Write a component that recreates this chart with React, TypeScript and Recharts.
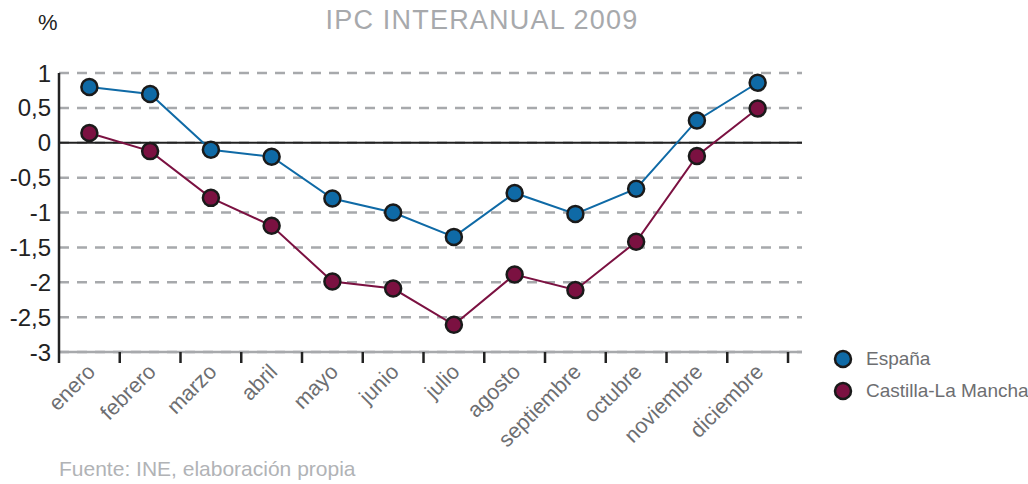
import { LineChart, Line, XAxis, YAxis, CartesianGrid, ReferenceLine } from "recharts";

const meses = [
  "enero", "febrero", "marzo", "abril", "mayo", "junio",
  "julio", "agosto", "septiembre", "octubre", "noviembre", "diciembre",
];
const espana = [0.8, 0.7, -0.1, -0.2, -0.8, -1.0, -1.35, -0.72, -1.02, -0.66, 0.32, 0.86];
const castillaLaMancha = [0.14, -0.12, -0.79, -1.19, -1.99, -2.09, -2.61, -1.89, -2.11, -1.42, -0.19, 0.49];
const yTicks = [-3, -2.5, -2, -1.5, -1, -0.5, 0, 0.5, 1];

const BLUE = "#0f6aa6";
const MAROON = "#7b1141";
const FONT = "Liberation Sans, Arial, sans-serif";

const data = meses.map((mes, i) => ({
  x: i + 0.5,
  mes,
  espana: espana[i],
  clm: castillaLaMancha[i],
}));

// ticks at band edges (integers) get a tick line, half values get the month label
const xTicks = Array.from({ length: 25 }, (_, i) => i / 2);

function MonthTick(props: any) {
  const { x, y, payload } = props;
  const v = payload.value as number;
  if (Number.isInteger(v)) {
    return <line x1={x} y1={y} x2={x} y2={y + 11} stroke="#222" strokeWidth={2.5} />;
  }
  const label = meses[Math.floor(v)];
  const tx = x + 7;
  const ty = y + 21;
  return (
    <text
      x={tx}
      y={ty}
      textAnchor="end"
      fill="#6d6e71"
      fontSize={21.5}
      fontFamily={FONT}
      transform={`rotate(-45 ${tx} ${ty})`}
    >
      {label}
    </text>
  );
}

const legendItems = [
  { name: "España", color: BLUE },
  { name: "Castilla-La Mancha", color: MAROON },
];

export default function App() {
  return (
    <div
      style={{
        position: "absolute",
        left: 0,
        top: 0,
        width: 1028,
        height: 484,
        background: "#fff",
        fontFamily: FONT,
      }}
    >
      <div style={{ position: "absolute", left: 0, width: 964, top: 5, textAlign: "center", fontSize: 27, letterSpacing: 1.2, color: "#a7a9ac" }}>
        IPC INTERANUAL 2009
      </div>
      <div style={{ position: "absolute", left: 38, top: 10, fontSize: 22, color: "#222" }}>%</div>
      <div style={{ position: "absolute", left: 59, top: 457, fontSize: 21, color: "#b1b3b6", whiteSpace: "nowrap" }}>
        Fuente: INE, elaboración propia
      </div>
      <div style={{ position: "absolute", left: 832, top: 343, width: 196 }}>
        {legendItems.map((it) => (
          <div key={it.name} style={{ display: "flex", alignItems: "center", height: 32, whiteSpace: "nowrap" }}>
            <svg width={22} height={22} style={{ flexShrink: 0 }}>
              <circle cx={11} cy={11} r={8} fill={it.color} stroke="#1a1a1a" strokeWidth={2.5} />
            </svg>
            <span style={{ marginLeft: 12, fontSize: 19, color: "#6d6e71" }}>{it.name}</span>
          </div>
        ))}
      </div>
      <LineChart width={1028} height={484} data={data} margin={{ top: 73, right: 226, bottom: 92, left: 9 }}>
        <CartesianGrid vertical={false} stroke="#a7a9ac" strokeWidth={2.5} strokeDasharray="10 8" />
        <XAxis
          type="number"
          dataKey="x"
          domain={[0, 12.23]}
          ticks={xTicks}
          interval={0}
          height={40}
          tickSize={0}
          tickMargin={0}
          tickLine={false}
          axisLine={{ stroke: "#a7a9ac", strokeWidth: 2.5 }}
          tick={<MonthTick />}
          allowDataOverflow
        />
        <YAxis
          domain={[-3, 1]}
          ticks={yTicks}
          interval={0}
          width={50}
          tickLine={false}
          axisLine={{ stroke: "#222", strokeWidth: 2.5 }}
          tick={{ fill: "#222", fontSize: 24, fontFamily: FONT }}
          tickFormatter={(v: number) => String(v).replace(".", ",")}
        />
        <ReferenceLine y={0} stroke="#222" strokeWidth={2} />
        <Line
          type="linear"
          dataKey="clm"
          name="Castilla-La Mancha"
          stroke={MAROON}
          strokeWidth={2}
          dot={{ r: 8, fill: MAROON, stroke: "#1a1a1a", strokeWidth: 2.5 }}
          isAnimationActive={false}
        />
        <Line
          type="linear"
          dataKey="espana"
          name="España"
          stroke={BLUE}
          strokeWidth={2}
          dot={{ r: 8, fill: BLUE, stroke: "#1a1a1a", strokeWidth: 2.5 }}
          isAnimationActive={false}
        />
      </LineChart>
    </div>
  );
}
